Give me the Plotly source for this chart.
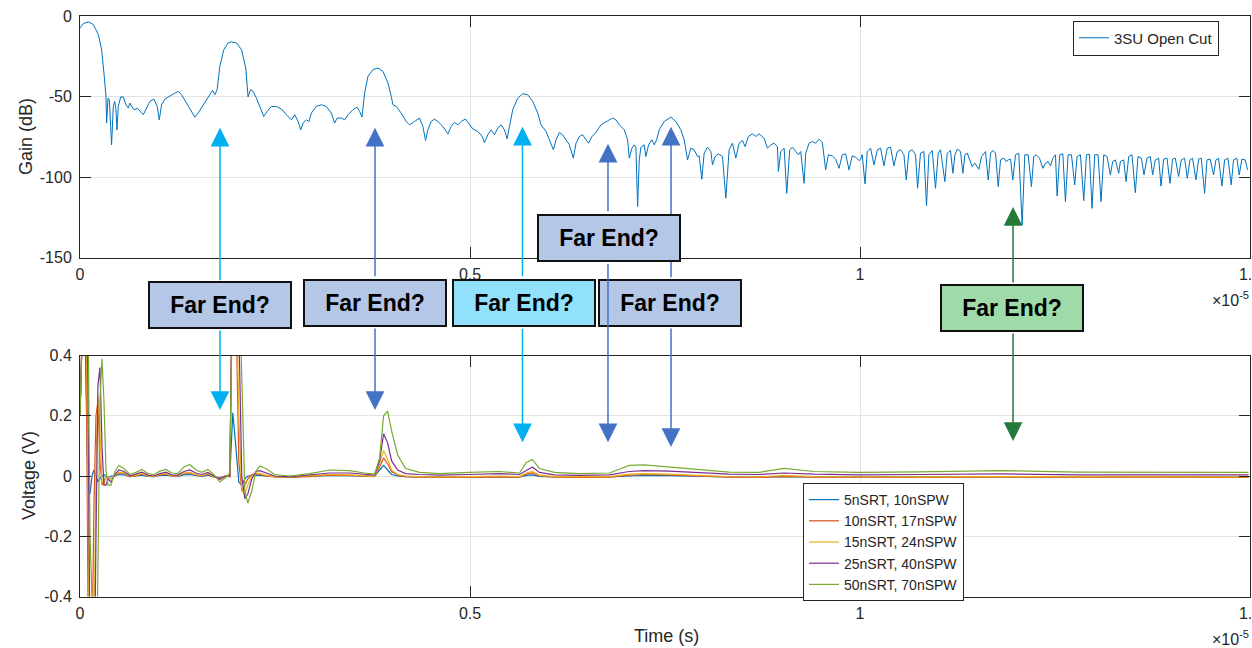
import plotly.graph_objects as go

# ---------------- data (time in units of 1e-5 s) ----------------
T_SCALE = 1e-5

t_gain = [
    0.0000, 0.0043, 0.0107, 0.0171, 0.0235, 0.0277, 0.0307, 0.0333, 0.0341, 0.0359,
    0.0376, 0.0393, 0.0405, 0.0427, 0.0444, 0.0461, 0.0474, 0.0491, 0.0521, 0.0555,
    0.0589, 0.0619, 0.0640, 0.0674, 0.0704, 0.0734, 0.0768, 0.0811, 0.0854, 0.0896,
    0.0948, 0.0990, 0.1016, 0.1046, 0.1088, 0.1152, 0.1216, 0.1259, 0.1302, 0.1366,
    0.1430, 0.1472, 0.1515, 0.1579, 0.1643, 0.1699, 0.1729, 0.1758, 0.1793, 0.1844,
    0.1899, 0.1942, 0.2006, 0.2070, 0.2125, 0.2155, 0.2185, 0.2219, 0.2262, 0.2326,
    0.2356, 0.2399, 0.2454, 0.2518, 0.2582, 0.2646, 0.2710, 0.2753, 0.2796, 0.2830,
    0.2860, 0.2902, 0.2936, 0.2966, 0.3030, 0.3094, 0.3158, 0.3222, 0.3265, 0.3295,
    0.3350, 0.3393, 0.3436, 0.3500, 0.3551, 0.3585, 0.3615, 0.3649, 0.3692,
    0.3756, 0.3820, 0.3884, 0.3948, 0.3990, 0.4012, 0.4054, 0.4118, 0.4182, 0.4225,
    0.4289, 0.4353, 0.4396, 0.4430, 0.4460, 0.4503, 0.4545, 0.4588, 0.4652, 0.4716,
    0.4759, 0.4801, 0.4844, 0.4887, 0.4942, 0.4985, 0.5036, 0.5100, 0.5156, 0.5185,
    0.5228, 0.5271, 0.5314, 0.5356, 0.5399, 0.5442, 0.5476, 0.5506, 0.5548, 0.5612,
    0.5676, 0.5740, 0.5804, 0.5868, 0.5911, 0.5975, 0.6039, 0.6069, 0.6103, 0.6146,
    0.6188, 0.6231, 0.6274, 0.6325, 0.6359, 0.6402, 0.6445, 0.6487, 0.6521, 0.6564,
    0.6615, 0.6679, 0.6743, 0.6786, 0.6829, 0.6871, 0.6914, 0.6978, 0.7021, 0.7042,
    0.7076, 0.7106, 0.7127, 0.7149, 0.7170, 0.7191, 0.7234, 0.7255, 0.7290, 0.7332,
    0.7362, 0.7392,
    0.7426, 0.7490, 0.7575, 0.7639, 0.7703, 0.7746, 0.7789, 0.7831, 0.7874, 0.7917,
    0.7938, 0.7972, 0.8002, 0.8045, 0.8088, 0.8109, 0.8143, 0.8186, 0.8237, 0.8280,
    0.8322, 0.8365, 0.8408, 0.8450, 0.8493, 0.8527, 0.8570, 0.8621, 0.8664, 0.8706,
    0.8770, 0.8813, 0.8856, 0.8898, 0.8941, 0.8954, 0.8984, 0.9027, 0.9061, 0.9099,
    0.9133, 0.9176, 0.9210, 0.9240, 0.9283, 0.9304, 0.9347, 0.9389, 0.9432, 0.9475,
    0.9517, 0.9560, 0.9594, 0.9645, 0.9688, 0.9731, 0.9773, 0.9816, 0.9859, 0.9901,
    0.9944, 0.9987, 1.0008, 1.0029, 1.0064, 1.0093, 1.0136, 1.0179, 1.0222, 1.0264,
    1.0307, 1.0349, 1.0392, 1.0435, 1.0478, 1.0520, 1.0563, 1.0593, 1.0627, 1.0670,
    1.0712, 1.0738, 1.0776, 1.0819, 1.0853, 1.0883, 1.0926, 1.0968, 1.1003, 1.1032,
    1.1088, 1.1118, 1.1160,
    1.1191, 1.1217, 1.1247, 1.1289, 1.1319, 1.1345, 1.1375, 1.1405, 1.1439, 1.1473,
    1.1503, 1.1524, 1.1558, 1.1609, 1.1644, 1.1674, 1.1703, 1.1738, 1.1772, 1.1802,
    1.1844, 1.1874, 1.1900, 1.1930, 1.1959, 1.1994, 1.2036, 1.2079, 1.2113, 1.2156,
    1.2198, 1.2228, 1.2258, 1.2301, 1.2344, 1.2378, 1.2412, 1.2442, 1.2472, 1.2506,
    1.2527, 1.2561, 1.2600, 1.2634, 1.2668, 1.2711, 1.2753, 1.2783, 1.2826, 1.2869,
    1.2903, 1.2941, 1.2975, 1.3009, 1.3052, 1.3090, 1.3125, 1.3167, 1.3210, 1.3240,
    1.3274, 1.3317, 1.3338, 1.3381, 1.3411, 1.3445, 1.3487, 1.3530, 1.3564, 1.3607,
    1.3641, 1.3679, 1.3722, 1.3752, 1.3786, 1.3829, 1.3859, 1.3893, 1.3936, 1.3974,
    1.4008, 1.4042, 1.4085, 1.4119, 1.4162, 1.4196, 1.4230, 1.4264, 1.4307, 1.4341,
    1.4375, 1.4418, 1.4448, 1.4490, 1.4533, 1.4563, 1.4597, 1.4640, 1.4674, 1.4717,
    1.4759, 1.4789, 1.4832, 1.4862, 1.4896, 1.4939, 1.4968,
]

gain_db = [
    -7.4, -4.7, -3.6, -5.3, -11.5, -20.9, -35.4, -49.9, -66.5, -51.0,
    -52.0, -64.5, -80.0, -56.2, -53.0, -58.2, -70.7, -56.2, -50.3, -50.3,
    -55.1, -57.2, -54.1, -57.2, -58.2, -57.2, -59.3, -61.3, -57.2, -53.0,
    -51.6, -56.2, -64.5, -55.1, -51.6, -49.5, -47.9, -46.8, -48.9, -54.1,
    -59.9, -62.8, -60.3, -55.1, -49.9, -46.2, -48.9, -45.8, -31.2, -20.9,
    -16.7, -16.1, -16.7, -20.9, -32.3, -50.3, -45.8, -46.8, -51.0, -58.2,
    -62.4, -59.3, -56.2, -56.2, -57.8, -61.3, -64.5, -61.3, -65.5, -70.7,
    -66.5, -64.5, -65.5, -60.3, -56.2, -55.1, -56.2, -60.3, -66.5, -63.4,
    -63.4, -64.5, -61.3, -58.2, -56.6, -59.3, -62.8, -47.9, -37.5,
    -33.3, -32.3, -34.4, -41.6, -49.9, -55.1, -56.2, -60.3, -65.5, -67.6,
    -65.5, -63.4, -68.6, -77.3, -70.7, -65.5, -64.0, -65.5, -68.6, -73.2,
    -68.6, -66.1, -67.6, -65.5, -64.0, -66.5, -70.1, -71.7, -74.8, -78.6,
    -73.8, -70.7, -73.8, -69.6, -67.6, -70.7, -76.3, -68.6, -58.2, -51.0,
    -48.3, -48.9, -53.0, -60.3, -67.6, -71.7, -79.0, -83.1, -76.9, -72.4,
    -73.8, -76.9, -80.0, -88.3, -79.0, -74.8, -73.8, -76.9, -79.0, -74.8,
    -72.4, -67.6, -65.5, -64.5, -63.4, -64.5, -67.6, -70.7, -76.9, -88.3,
    -82.1, -80.0, -81.5, -118.4, -89.4, -81.5, -80.0, -87.3, -80.0, -76.9,
    -80.0, -76.9,
    -70.7, -65.5, -62.8, -65.5, -70.7, -76.9, -89.4, -82.1, -83.1, -87.3,
    -86.9, -101.4, -85.2, -81.5, -84.2, -92.5, -87.3, -85.6, -87.3, -113.2,
    -83.1, -79.0, -88.3, -79.0, -77.3, -81.1, -74.8, -73.2, -74.8, -73.2,
    -75.9, -82.1, -80.0, -79.0, -81.1, -96.6, -84.2, -82.1, -110.1, -83.1,
    -81.5, -84.2, -86.2, -84.2, -103.9, -85.2, -79.0, -77.9, -79.0, -76.5,
    -78.6, -95.6, -86.2, -86.9, -88.9, -94.6, -86.2, -85.6, -95.6, -86.9,
    -87.7, -89.8, -88.9, -86.2, -104.3, -84.2, -82.1, -92.5, -83.1, -82.1,
    -93.1, -82.1, -81.5, -93.1, -84.2, -83.1, -86.2, -101.8, -84.2, -83.1,
    -86.2, -107.0, -85.2, -84.2, -118.0, -86.2, -83.5, -107.0, -85.2, -83.1,
    -102.9, -85.2, -83.5,
    -97.7, -86.2, -82.7, -84.2, -97.7, -86.2, -85.2, -89.4, -93.5, -91.4,
    -93.5, -95.2, -87.3, -84.2, -101.8, -85.2, -83.5, -85.2, -106.0, -89.4,
    -88.3, -90.4, -89.4, -88.9, -101.8, -86.2, -85.2, -129.8, -86.2, -86.2,
    -106.0, -87.3, -86.2, -88.3, -94.6, -91.4, -90.4, -93.1, -88.3, -86.2,
    -111.8, -86.2, -85.6, -115.3, -86.2, -86.2, -104.9, -87.3, -86.2, -114.7,
    -86.2, -85.8, -119.5, -86.2, -86.2, -115.3, -86.2, -87.3, -98.7, -90.4,
    -89.4, -97.7, -90.4, -89.4, -102.9, -87.3, -86.2, -109.7, -87.3, -88.3,
    -98.7, -88.3, -87.3, -98.7, -89.4, -88.3, -105.6, -88.9, -88.3, -103.9,
    -88.9, -88.3, -99.7, -89.4, -88.3, -100.8, -89.4, -88.3, -101.8, -88.9,
    -88.3, -110.1, -89.4, -88.9, -98.7, -89.4, -88.3, -105.6, -89.4, -88.3,
    -104.9, -89.4, -88.3, -98.7, -88.9, -89.4, -95.6,
]

t_volt = [
    0.0000, 0.0026, 0.0051, 0.0077, 0.0102, 0.0128, 0.0154, 0.0179, 0.0205, 0.0230,
    0.0256, 0.0282, 0.0307, 0.0333, 0.0359, 0.0397, 0.0448, 0.0499, 0.0563, 0.0640,
    0.0717, 0.0794, 0.0871, 0.0948, 0.1024, 0.1101, 0.1178, 0.1255, 0.1332, 0.1408,
    0.1485, 0.1562, 0.1639, 0.1716, 0.1793, 0.1870, 0.1921, 0.1959, 0.1997, 0.2036,
    0.2074, 0.2113, 0.2151, 0.2202, 0.2254, 0.2305, 0.2382, 0.2497, 0.2689, 0.2945,
    0.3201, 0.3457, 0.3649, 0.3777, 0.3841, 0.3892, 0.3944, 0.3995, 0.4072, 0.4174,
    0.4353, 0.4609, 0.4994, 0.5378, 0.5634, 0.5723, 0.5800, 0.5890, 0.6082, 0.6402,
    0.6786, 0.7042, 0.7234, 0.7554, 0.7939, 0.8323, 0.8707, 0.9027, 0.9411, 0.9987,
    1.0755, 1.1780, 1.2804, 1.3828, 1.4981,
]

v_5n = [
    0.2, 0.7, 0.7, 0.3, -0.03, -0.06, 0.0, 0.02, 0.0, -0.02,
    -0.01, 0.0, 0.005, 0.0, -0.005, 0.0, 0.0, 0.005, 0.004, -0.002,
    0.0, 0.003, -0.001, -0.002, 0.002, 0.003, 0.0, -0.001, 0.004, 0.005,
    0.002, -0.001, 0.003, -0.003, -0.005, 0.0, 0.0, 0.21, 0.1, -0.02,
    -0.03, -0.01, 0.0, 0.002, 0.003, 0.002, 0.0, -0.002, -0.003, -0.001,
    0.002, 0.001, 0.0, -0.001, 0.02, 0.035, 0.02, 0.005, 0.0, -0.002,
    -0.003, -0.003, -0.002, -0.002, -0.003, 0.002, 0.004, -0.001, -0.003, -0.003,
    -0.003, 0.0, 0.002, 0.001, -0.002, -0.003, -0.003, -0.002, -0.003, -0.003,
    -0.003, -0.003, -0.003, -0.003, -0.003,
]
v_10n = [
    0.2, 0.7, 0.7, 0.5, -0.4, -0.8, -0.6, -0.1, 0.2, 0.25,
    0.05, -0.03, -0.02, 0.0, -0.01, -0.008, 0.0, 0.01, 0.008, -0.002,
    0.0, 0.006, 0.0, -0.002, 0.004, 0.006, 0.0, 0.0, 0.008, 0.01,
    0.004, 0.0, 0.006, -0.003, -0.008, 0.0, -0.003, 0.8, 0.6, 0.05,
    -0.05, -0.03, -0.01, 0.005, 0.008, 0.005, 0.0, -0.003, -0.005, -0.002,
    0.003, 0.002, 0.0, -0.002, 0.03, 0.06, 0.04, 0.015, 0.003, -0.002,
    -0.004, -0.005, -0.004, -0.003, -0.004, 0.006, 0.01, 0.0, -0.004, -0.005,
    -0.004, 0.003, 0.005, 0.004, 0.0, -0.004, -0.005, -0.001, -0.004, -0.005,
    -0.005, -0.004, -0.005, -0.005, -0.005,
]
v_15n = [
    0.2, 0.7, 0.7, 0.7, 0.0, -0.8, -0.8, -0.6, 0.05, 0.27,
    0.15, -0.02, -0.03, 0.0, -0.005, -0.01, 0.003, 0.012, 0.01, -0.002,
    0.002, 0.008, 0.0, -0.002, 0.005, 0.008, 0.001, 0.0, 0.01, 0.012,
    0.005, 0.001, 0.008, -0.003, -0.01, 0.0, 0.0, 0.8, 0.8, 0.2,
    -0.05, -0.06, -0.03, 0.0, 0.01, 0.01, 0.003, -0.002, -0.004, 0.0,
    0.005, 0.004, 0.001, -0.001, 0.04, 0.085, 0.055, 0.02, 0.005, 0.0,
    -0.002, -0.003, -0.002, 0.0, -0.002, 0.01, 0.015, 0.003, -0.002, -0.003,
    -0.002, 0.006, 0.008, 0.006, 0.002, -0.002, -0.003, 0.002, -0.002, -0.003,
    -0.003, -0.002, -0.003, -0.003, -0.003,
]
v_25n = [
    0.2, 0.7, 0.7, 0.7, 0.3, -0.6, -0.8, -0.8, -0.2, 0.3,
    0.36, 0.1, -0.03, -0.03, -0.01, -0.02, 0.005, 0.02, 0.015, 0.0,
    0.006, 0.013, 0.003, 0.0, 0.008, 0.013, 0.004, 0.003, 0.015, 0.02,
    0.01, 0.005, 0.012, 0.0, -0.012, 0.0, 0.0, 0.8, 0.8, 0.5,
    0.0, -0.075, -0.06, -0.01, 0.015, 0.018, 0.01, 0.0, -0.003, 0.003,
    0.01, 0.01, 0.005, 0.003, 0.05, 0.14, 0.11, 0.05, 0.02, 0.008,
    0.005, 0.003, 0.005, 0.008, 0.005, 0.02, 0.03, 0.012, 0.004, 0.002,
    0.004, 0.015, 0.018, 0.016, 0.01, 0.006, 0.005, 0.01, 0.006, 0.004,
    0.005, 0.007, 0.004, 0.004, 0.004,
]
v_50n = [
    0.2, 0.7, 0.7, 0.7, 0.6, -0.2, -0.8, -0.8, -0.8, -0.3,
    0.25, 0.39, 0.25, 0.02, -0.03, -0.03, 0.015, 0.035, 0.025, 0.005,
    0.012, 0.022, 0.008, 0.005, 0.016, 0.022, 0.01, 0.008, 0.03, 0.038,
    0.02, 0.012, 0.022, 0.005, -0.02, -0.005, 0.01, 0.7, 0.8, 0.7,
    0.3, -0.05, -0.09, -0.05, 0.015, 0.033, 0.025, 0.005, 0.0, 0.008,
    0.02, 0.018, 0.01, 0.006, 0.06, 0.2, 0.215, 0.15, 0.07, 0.025,
    0.012, 0.008, 0.012, 0.015, 0.01, 0.045, 0.055, 0.025, 0.012, 0.008,
    0.01, 0.035, 0.037, 0.03, 0.02, 0.013, 0.012, 0.025, 0.015, 0.012,
    0.014, 0.018, 0.013, 0.012, 0.012,
]

volt_names = ["5nSRT, 10nSPW", "10nSRT, 17nSPW", "15nSRT, 24nSPW",
              "25nSRT, 40nSPW", "50nSRT, 70nSPW"]
volt_series = [v_5n, v_10n, v_15n, v_25n, v_50n]
volt_colors = ["#0072BD", "#D95319", "#EDB120", "#7E2F8E", "#77AC30"]

x_tickvals = [0, 0.5, 1.0, 1.5]
x_ticktext = ["0", "0.5", "1", "1.5"]
gain_tickvals = [-150, -100, -50, 0]
gain_ticktext = ["-150", "-100", "-50", "0"]
volt_tickvals = [-0.4, -0.2, 0, 0.2, 0.4]
volt_ticktext = ["-0.4", "-0.2", "0", "0.2", "0.4"]

# "Far End?" callouts
arrow_t = [0.1795, 0.3782, 0.5673, 0.6769, 0.7577, 1.1962]
arrow_up_tip_db = [-69.4, -69.4, -68.8, -79.4, -68.8, -118.6]
arrow_up_len = [154, 150, 151, 69, 152, 77]
arrow_dn_tip_v = [0.219, 0.219, 0.112, 0.112, 0.096, 0.116]
arrow_dn_len = [81, 83, 115, 180, 120, 109]
arrow_colors = ["#00B0F0", "#4472C4", "#00B0F0", "#4472C4", "#4472C4", "#237A3B"]

box_t = [0.1795, 0.3782, 0.5686, 0.7558, 0.6788, 1.1955]
box_ypx = [305.5, 302.5, 302.5, 303.0, 237.5, 308.0]
box_fill = ["#B4C7E7", "#B4C7E7", "#92E1FC", "#B4C7E7", "#B4C7E7", "#9EDBA8"]

# ---------------- figure ----------------
W, H = 1252, 648
L, R = 80, 2
FONT = "Liberation Sans, Arial, sans-serif"
AX = "#262626"
GRID = "#E3E3E3"

fig = go.Figure()
fig.add_trace(go.Scatter(
    x=[t * T_SCALE for t in t_gain], y=gain_db, mode="lines",
    line=dict(color="#0072BD", width=1), name="3SU Open Cut",
    xaxis="x", yaxis="y", legend="legend", hoverinfo="skip"))
for name, vals, col in zip(volt_names, volt_series, volt_colors):
    fig.add_trace(go.Scatter(
        x=[t * T_SCALE for t in t_volt], y=vals, mode="lines",
        line=dict(color=col, width=1.2), name=name,
        xaxis="x2", yaxis="y2", legend="legend2", hoverinfo="skip"))


def px_x(px):
    return (px - L) / (W - L - R)


def px_y(py):
    return 1 - py / H


common_x = dict(
    range=[0, 1.5 * T_SCALE], tickvals=[v * T_SCALE for v in x_tickvals],
    ticktext=x_ticktext, ticks="inside", ticklen=11, tickcolor=AX,
    showline=True, linecolor=AX, linewidth=1, mirror="ticks",
    showgrid=True, gridcolor=GRID, gridwidth=1, zeroline=False,
    tickfont=dict(family=FONT, size=16, color=AX), ticklabelstandoff=2,
    ticklabeloverflow="allow", domain=[0, 1], automargin=False)
common_y = dict(
    ticks="inside", ticklen=11, tickcolor=AX,
    showline=True, linecolor=AX, linewidth=1, mirror="ticks",
    showgrid=True, gridcolor=GRID, gridwidth=1, zeroline=False,
    tickfont=dict(family=FONT, size=16, color=AX), ticklabelstandoff=4,
    automargin=False)

fig.update_layout(
    width=W, height=H, autosize=False,
    margin=dict(l=L, r=R, t=0, b=0, pad=0),
    paper_bgcolor="white", plot_bgcolor="white",
    font=dict(family=FONT, color=AX),
    xaxis=dict(anchor="y", **common_x),
    yaxis=dict(anchor="x", domain=[px_y(257.5), px_y(16.0)], range=[-150, 0],
               tickvals=gain_tickvals, ticktext=gain_ticktext, **common_y),
    xaxis2=dict(anchor="y2", **common_x),
    yaxis2=dict(anchor="x2", domain=[px_y(596.5), px_y(355.5)], range=[-0.4, 0.4],
                tickvals=volt_tickvals, ticktext=volt_ticktext, **common_y),
    legend=dict(x=px_x(1219), y=px_y(20.5), xanchor="right", yanchor="top",
                bgcolor="white", bordercolor=AX, borderwidth=1,
                font=dict(family=FONT, size=15, color=AX), tracegroupgap=0),
    legend2=dict(x=px_x(803), y=px_y(483), xanchor="left", yanchor="top",
                 bgcolor="white", bordercolor=AX, borderwidth=1,
                 font=dict(family=FONT, size=14, color=AX), tracegroupgap=0),
    showlegend=True,
)

ann = []
ann.append(dict(text="Gain (dB)", x=px_x(26), y=px_y(137), xref="paper", yref="paper",
                xanchor="center", yanchor="middle",
                textangle=-90, showarrow=False, font=dict(family=FONT, size=18, color=AX)))
ann.append(dict(text="Voltage (V)", x=px_x(29), y=px_y(476), xref="paper", yref="paper",
                xanchor="center", yanchor="middle",
                textangle=-90, showarrow=False, font=dict(family=FONT, size=18, color=AX)))
ann.append(dict(text="Time (s)", x=px_x(666), y=px_y(636), xref="paper", yref="paper",
                xanchor="center", yanchor="middle",
                showarrow=False, font=dict(family=FONT, size=18, color=AX)))
for ypx in (299, 638):
    ann.append(dict(text="\u00d710<sup>-5</sup>", x=px_x(1251), y=px_y(ypx), xref="paper",
                    yref="paper", xanchor="right", yanchor="middle", showarrow=False,
                    font=dict(family=FONT, size=16, color=AX)))


def arrow_up(i):
    return dict(x=arrow_t[i] * T_SCALE, y=arrow_up_tip_db[i], xref="x", yref="y",
                ax=0, ay=arrow_up_len[i], axref="pixel", ayref="pixel", text="",
                showarrow=True, arrowhead=2, arrowsize=2.5, arrowwidth=1.5,
                arrowcolor=arrow_colors[i], standoff=0, startstandoff=0)


def arrow_down(i):
    return dict(x=arrow_t[i] * T_SCALE, y=arrow_dn_tip_v[i], xref="x2", yref="y2",
                ax=0, ay=-arrow_dn_len[i], axref="pixel", ayref="pixel", text="",
                showarrow=True, arrowhead=2, arrowsize=2.5, arrowwidth=1.5,
                arrowcolor=arrow_colors[i], standoff=0, startstandoff=0)


def box(i):
    return dict(text="<b>Far End?</b>", x=box_t[i] * T_SCALE, y=px_y(box_ypx[i]),
                xref="x", yref="paper", xanchor="center", yanchor="middle",
                showarrow=False, bgcolor=box_fill[i], bordercolor="#111111",
                borderwidth=2, borderpad=1, width=138, height=42,
                font=dict(family=FONT, size=23, color="#000000"))


for i in (0, 1, 2):
    ann += [arrow_up(i), arrow_down(i)]
ann += [box(0), box(1), box(2)]
ann += [arrow_up(4), arrow_down(4), box(3), arrow_up(3), arrow_down(3), box(4)]
ann += [arrow_up(5), arrow_down(5), box(5)]

fig.update_layout(annotations=ann)

fig.write_html(
    "out.html",
    config={"displayModeBar": False},
    post_script="document.body.style.margin='0px';document.body.style.overflow='hidden';",
)
